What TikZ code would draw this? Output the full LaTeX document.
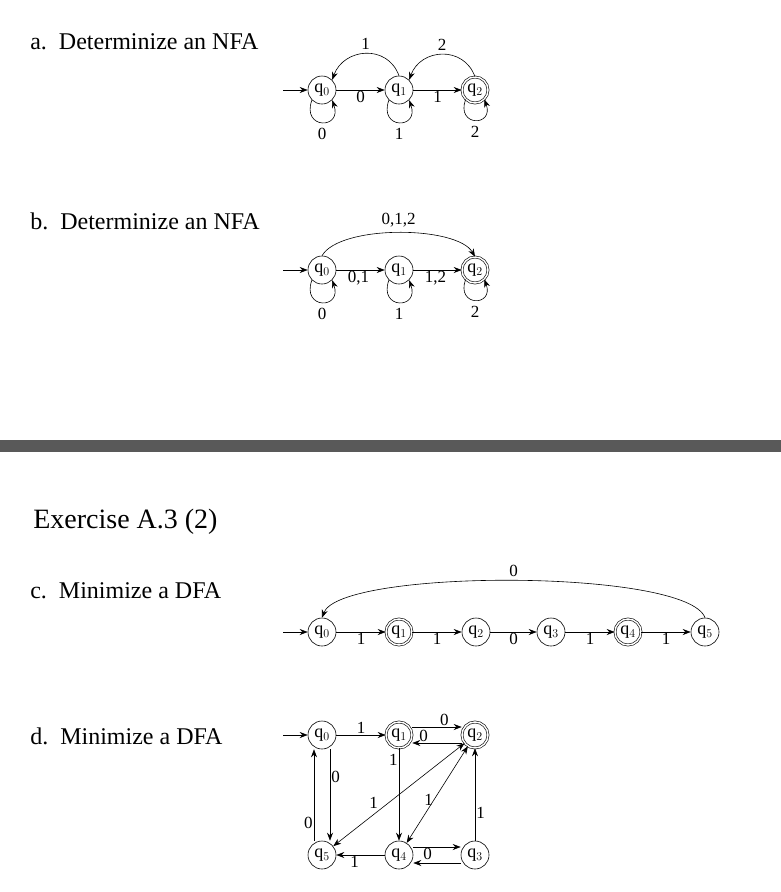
\documentclass[tikz,border=0pt]{standalone}
\usepackage{fontspec}
\setmainfont{Liberation Serif}
\usetikzlibrary{arrows.meta}
\begin{document}
\begin{tikzpicture}[x=1pt,y=-1pt,semithick,
 st/.style={circle,draw,minimum size=28pt,inner sep=0pt,font=\fontsize{18}{18}\selectfont},
 acc/.style={st,double,double distance=1.5pt,minimum size=26pt},
 ar/.style={-{Stealth[length=8pt,width=6pt]}},
 dar/.style={{Stealth[length=8pt,width=6pt]}-{Stealth[length=8pt,width=6pt]}},
 lb/.style={font=\fontsize{17}{17}\selectfont,inner sep=1pt},
 ttl/.style={anchor=base west,font=\fontsize{24}{24}\selectfont,inner sep=0pt},
 lp/.style={ar,out=-110,in=-70,looseness=4}]
\useasboundingbox (0,0) rectangle (781,892);
% a
\node[ttl] (ta) at (30,49) {a.\ \ Determinize an NFA};
\node[st] (a0) at (322,90) {q$_0$};
\node[st] (a1) at (399,90) {q$_1$};
\node[acc] (a2) at (475,90) {q$_2$};
\coordinate (as) at (283,90);
\draw[ar] (as) -- (a0);
\draw[ar] (a0) -- node[lb,below]{0} (a1);
\draw[ar] (a1) -- node[lb,below]{1} (a2);
\draw[ar] (a1.north) to[out=110,in=70,looseness=1.3] node[lb,above=3pt]{1} (a0.north east);
\draw[ar] (a2.north) to[out=110,in=70,looseness=1.3] node[lb,above=3pt]{2} (a1.north east);
\draw[lp] (a0.south west) to node[lb,below=5pt]{0} (a0.south east);
\draw[lp] (a1.south west) to node[lb,below=5pt]{1} (a1.south east);
\draw[lp] (a2.south west) to node[lb,below=5pt]{2} (a2.south east);
% b
\node[ttl] (tb) at (30,229) {b.\ \ Determinize an NFA};
\node[st] (b0) at (322,270) {q$_0$};
\node[st] (b1) at (399,270) {q$_1$};
\node[acc] (b2) at (475,270) {q$_2$};
\coordinate (bs) at (283,270);
\draw[ar] (bs) -- (b0);
\draw[ar] (b0) -- node[lb,below,xshift=-2pt]{0,1} (b1);
\draw[ar] (b1) -- node[lb,below,xshift=-2pt]{1,2} (b2);
\draw[ar] (b0.north) to[out=60,in=120,looseness=0.6] node[lb,above=4pt]{0,1,2} (b2.north);
\draw[lp] (b0.south west) to node[lb,below=5pt]{0} (b0.south east);
\draw[lp] (b1.south west) to node[lb,below=5pt]{1} (b1.south east);
\draw[lp] (b2.south west) to node[lb,below=5pt]{2} (b2.south east);
% separator
\fill[black!65] (0,440) rectangle (781,452);
\node[ttl,font=\fontsize{28}{28}\selectfont] (ex) at (33,528) {Exercise A.3 (2)};
% c
\node[ttl] (tc) at (30,598) {c.\ \ Minimize a DFA};
\node[st] (c0) at (322,632) {q$_0$};
\node[acc] (c1) at (399,632) {q$_1$};
\node[st] (c2) at (476,632) {q$_2$};
\node[st] (c3) at (551,632) {q$_3$};
\node[acc] (c4) at (628,632) {q$_4$};
\node[st] (c5) at (705,632) {q$_5$};
\coordinate (cs) at (283,632);
\draw[ar] (cs) -- (c0);
\draw[ar] (c0) -- node[lb,below]{1} (c1);
\draw[ar] (c1) -- node[lb,below]{1} (c2);
\draw[ar] (c2) -- node[lb,below]{0} (c3);
\draw[ar] (c3) -- node[lb,below]{1} (c4);
\draw[ar] (c4) -- node[lb,below]{1} (c5);
\draw[ar] (c5.north) to[out=110,in=70,looseness=0.35] node[lb,above=3pt]{0} (c0.north);
% d
\node[ttl] (td) at (30,744) {d.\ \ Minimize a DFA};
\node[st] (d0) at (322,735) {q$_0$};
\node[acc] (d1) at (399,735) {q$_1$};
\node[acc] (d2) at (475,735) {q$_2$};
\node[st] (d5) at (322,855) {q$_5$};
\node[st] (d4) at (399,855) {q$_4$};
\node[st] (d3) at (475,855) {q$_3$};
\coordinate (ds) at (283,735);
\draw[ar] (ds) -- (d0);
\draw[ar] (d0) -- node[lb,above]{1} (d1);
\draw[ar] ([yshift=8pt]d1.east) -- node[lb,above,pos=0.65]{0} ([yshift=8pt]d2.west);
\draw[ar] ([yshift=-8pt]d2.west) -- node[lb,above,pos=0.85,xshift=4pt]{0} ([yshift=-8pt]d1.east);
\draw[ar] ([xshift=8pt]d0.south) -- node[lb,right,pos=0.3]{0} ([xshift=8pt]d5.north);
\draw[ar] ([xshift=-8pt]d5.north) -- node[lb,left,pos=0.2]{0} ([xshift=-8pt]d0.south);
\draw[ar] (d1) -- node[lb,left,pos=0.12]{1} (d4);
\draw[dar] (d2) -- node[lb,above left=0pt,pos=0.65]{1} (d5);
\draw[dar] (d2) -- node[lb,left,pos=0.55]{1} (d4);
\draw[ar] ([yshift=8pt]d4.east) -- node[lb,below,pos=0.3]{0} ([yshift=8pt]d3.west);
\draw[ar] ([yshift=-8pt]d3.west) -- ([yshift=-8pt]d4.east);
\draw[ar] (d3) -- node[lb,right,pos=0.3]{1} (d2);
\draw[ar] (d4) -- node[lb,below,xshift=-6pt]{1} (d5);
\end{tikzpicture}
\end{document}
